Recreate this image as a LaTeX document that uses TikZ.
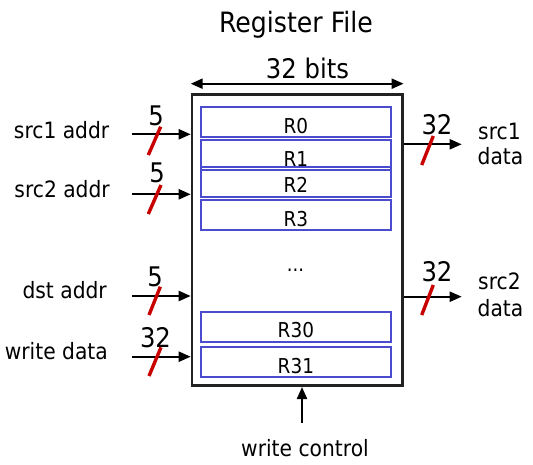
\documentclass[tikz,border=0pt]{standalone}
\usepackage{fontspec}
\setmainfont{DejaVu Sans}[FakeStretch=0.9]
\usetikzlibrary{arrows.meta}
\definecolor{regblue}{RGB}{75,75,205}
\definecolor{slashred}{RGB}{200,0,0}
\definecolor{boxgray}{RGB}{34,34,34}
\begin{document}
\begin{tikzpicture}[x=1pt,y=-1pt,
  lbl/.style={inner sep=0pt, font=\fontsize{22.5}{26}\selectfont},
  busn/.style={inner sep=0pt, anchor=base, font=\fontsize{27}{30}\selectfont},
  regbox/.style={draw=regblue, line width=2.2pt, inner sep=0pt, anchor=north,
    minimum width=190.3pt, text height=26pt, text depth=4pt,
    font=\fontsize{20.5}{24}\selectfont},
  arr/.style={line width=2.2pt, -{Triangle[length=12pt,width=10pt]}},
  slash/.style={draw=slashred, line width=3.4pt}]
\useasboundingbox (0,0) rectangle (533,465);
\fill[white] (0,0) rectangle (533,465);

% title
\node[inner sep=0pt, anchor=base, font=\fontsize{28}{30}\selectfont] (title) at (296,33) {Register File};

% main box
\node[draw=boxgray, line width=2.6pt, minimum width=210.3pt, minimum height=291.4pt, inner sep=0pt] (rf) at (297.15,240) {};

% width dimension
\draw[line width=2.2pt, {Triangle[length=12pt,width=10pt]}-{Triangle[length=12pt,width=10pt]}]
  ([yshift=9.3pt]rf.north west) -- ([yshift=9.3pt]rf.north east);
\node[inner sep=0pt, anchor=base, font=\fontsize{27}{30}\selectfont] (bits) at (307.5,79) {32 bits};

% registers
\node[regbox] (r0) at (295.85,106) {R0};
\node[regbox] (r1) at (295.85,139.3) {R1};
\node[regbox] (r2) at (295.85,165.7) {R2};
\node[regbox] (r3) at (295.85,199.3) {R3};
\node[inner sep=0pt, anchor=base, font=\fontsize{20}{24}\selectfont] (dots) at (295.5,271.7) {...};
\node[regbox] (r30) at (295.85,310.7) {R30};
\node[regbox] (r31) at (295.85,346) {R31};

% inputs
\node[lbl, anchor=base east] (l1) at (109.5,138.3) {src1 addr};
\node[lbl, anchor=base east] (l2) at (110,197.3) {src2 addr};
\node[lbl, anchor=base east] (l3) at (107,298.3) {dst addr};
\node[lbl, anchor=base east] (l4) at (108,359) {write data};

\coordinate (i1) at (132,134.3);
\coordinate (i2) at (132,194.3);
\coordinate (i3) at (132,296);
\coordinate (i4) at (132,356.7);
\draw[arr] (i1) -- (i1 -| rf.west);
\draw[arr] (i2) -- (i2 -| rf.west);
\draw[arr] (i3) -- (i3 -| rf.west);
\draw[arr] (i4) -- (i4 -| rf.west);

\node[busn] (n1) at (156,126) {5};
\node[busn] (n2) at (157,182.7) {5};
\node[busn] (n3) at (155,286.7) {5};
\node[busn] (n4) at (155.5,347.3) {32};

\draw[slash] (148.3,155) -- (160.7,126.7);
\draw[slash] (148.3,214) -- (161,185);
\draw[slash] (149,315) -- (160.3,286.7);
\draw[slash] (149,376) -- (161,347.3);

% outputs
\coordinate (o1) at (461.7,144.3);
\coordinate (o2) at (461.7,296.7);
\draw[arr] (o1 -| rf.east) -- (o1);
\draw[arr] (o2 -| rf.east) -- (o2);

\node[busn] (n5) at (437,135) {32};
\node[busn] (n6) at (437,281.7) {32};
\draw[slash] (421.7,165) -- (433.3,136);
\draw[slash] (421.7,315) -- (433.3,285);

\node[lbl, anchor=base west] (s1a) at (478,140) {src1};
\node[lbl, anchor=base west] (s1b) at (477.5,165) {data};
\node[lbl, anchor=base west] (s2a) at (478,290) {src2};
\node[lbl, anchor=base west] (s2b) at (477.5,316.7) {data};

% write control
\node[lbl, anchor=base] (wcl) at (305,456) {write control};
\coordinate (wc) at (302,423);
\draw[arr] (wc) -- (wc |- rf.south);
\end{tikzpicture}
\end{document}
